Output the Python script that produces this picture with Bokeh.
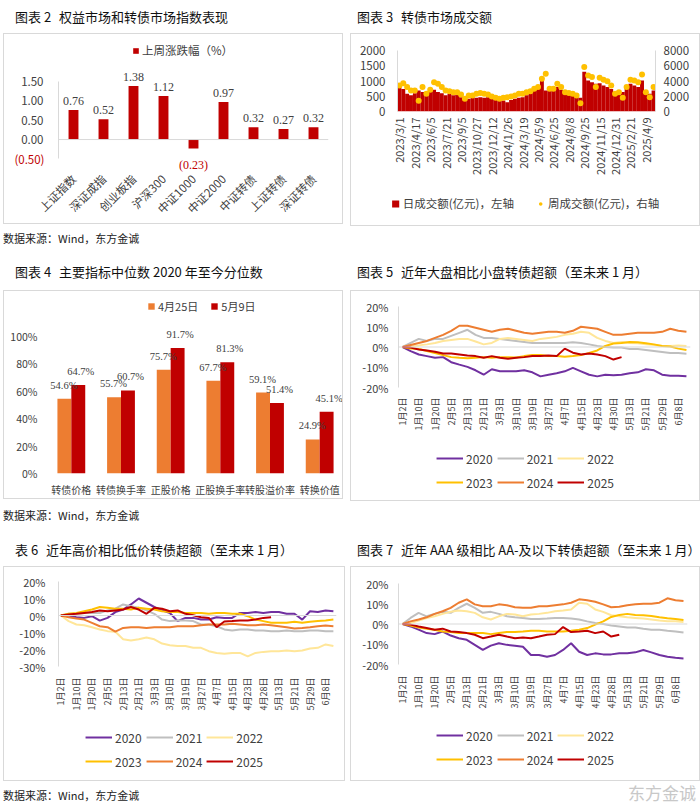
import math
from bokeh.plotting import figure
from bokeh.models import (ColumnDataSource, FactorRange, Range1d, LinearAxis, FixedTicker,
                          Span, Legend, LegendItem, LabelSet, Div,
                          CustomJSTickFormatter, PrintfTickFormatter)
from bokeh.layouts import row, column
from bokeh.transform import dodge
from bokeh.embed import file_html
from bokeh.resources import INLINE

FONT = "Noto Sans CJK SC"
RED = "#C00000"
ORANGE = "#ED7D31"
GOLD = "#FFC000"
TXT = "#404040"
GRID = "#D9D9D9"
BORDER = {"border": "1px solid #D9D9D9"}
NAN = float("nan")

# ---------------- chart 2 data ----------------
idx_names = ["上证指数", "深证成指", "创业板指", "沪深300", "中证1000", "中证2000", "中证转债", "上证转债", "深证转债"]
idx_chg = [0.76, 0.52, 1.38, 1.12, -0.23, 0.97, 0.32, 0.27, 0.32]
c2_yticks = [-0.5, 0.0, 0.5, 1.0, 1.5]

# ---------------- chart 3 data ----------------
c3_tick_labels = ["2023/3/1", "2023/4/17", "2023/6/5", "2023/7/21", "2023/9/5", "2023/10/27",
                  "2023/12/12", "2024/1/26", "2024/3/19", "2024/5/9", "2024/6/25", "2024/8/8",
                  "2024/9/25", "2024/11/15", "2024/12/31", "2025/2/21", "2025/4/9"]
c3_pts_per_label = 4
c3_daily = [800, 740, 580, 530, 600, 690, 640, 530, 690, 710,
            640, 600, 530, 580, 530, 560, 470, 380, 420, 470,
            450, 470, 450, 470, 420, 380, 360, 360, 300, 380,
            420, 450, 470, 530, 580, 690, 800, 1000, 690, 690,
            740, 800, 710, 580, 560, 530, 490, 450, 1300, 1020,
            960, 910, 930, 850, 800, 740, 530, 560, 640, 800,
            910, 850, 800, 1020, 640, 580, 690]
c3_weekly = [3410, 3720, 3200, 2760, 2760, 1400, 3200, 2320, 2850, 3850,
             3630, 3200, 2760, 2670, 2540, 2540, 2230, 1660, 2100, 2100,
             2320, 2410, 2320, 2230, 1970, 1790, 1660, 1790, 1880, 1970,
             2100, 2320, 2320, 2540, 2670, 2980, 3200, 4290, 4950, 2980,
             2980, 3630, 3200, 2540, 2410, 2320, 2100, 1090, 5820, 4730,
             4510, 3200, 4420, 4160, 3980, 3410, 2320, 2540, 1790, 3200,
             4160, 4070, 3850, 4860, 2540, 1880, 3200]
c3_left_ticks = [0, 500, 1000, 1500, 2000]
c3_right_ticks = [0, 2000, 4000, 6000, 8000]
c3_series = ["日成交额(亿元)，左轴", "周成交额(亿元)，右轴"]

# ---------------- chart 4 data ----------------
ind_names = ["转债价格", "转债换手率", "正股价格", "正股换手率", "转股溢价率", "转换价值"]
pct_0425 = [54.6, 55.7, 75.7, 67.7, 59.1, 24.9]
pct_0509 = [64.7, 60.7, 91.7, 81.3, 51.4, 45.1]
c4_series = ["4月25日", "5月9日"]
c4_yticks = [0, 20, 40, 60, 80, 100]

# ---------------- line charts ----------------
years = ["2020", "2021", "2022", "2023", "2024", "2025"]
year_colors = ["#7030A0", "#BFBFBF", "#FFE699", "#FFC000", "#ED7D31", "#C00000"]
pts_per_label = 2

c5_ticks = ["1月2日", "1月10日", "1月20日", "2月5日", "2月13日", "2月21日", "3月3日", "3月10日", "3月19日",
            "3月27日", "4月7日", "4月15日", "4月23日", "4月30日", "5月13日", "5月21日", "5月29日", "6月8日"]
c67_ticks = ["1月2日", "1月10日", "1月20日", "2月5日", "2月13日", "2月21日", "3月3日", "3月10日", "3月19日",
             "3月27日", "4月7日", "4月15日", "4月23日", "4月28日", "5月13日", "5月21日", "5月29日", "6月8日"]

c5_2020 = [0, -2, -3.7, -4.5, -5.3, -5, -7.5, -8.7, -9.8, -11.5, -13.7, -11, -12, -12, -12, -11.5, -12.5, -14.5,
           -13.7, -13, -12, -10.3, -12, -13.7, -14.5, -13.7, -14, -13.7, -13, -12.5, -11, -11.5, -13.7, -14.2, -14.2, -14.5]
c5_2021 = [0, 2, 4, 3, 4, 4, 5.5, 7, 8.5, 6, 4.5, 4.5, 4, 3.5, 3, 2.5, 2, 2,
           2, 2, 2, 2.3, 2, 1.3, 0.5, 0, -0.3, -0.3, -1, -1, -1.5, -2, -2.5, -3, -3, -3.3]
c5_2022 = [0, 0.5, 0.8, 1.3, 2, 3, 3.5, 4, 4, 2.7, 1.3, 2, 4, 4.5, 4, 3.5, 3, 4,
           4.5, 5, 6, 6.5, 7.5, 7, 4.5, 3, 2, 2.5, 2, 1.8, 1.3, 1, 0.5, 0.5, 0.8, 0.5]
c5_2023 = [0, -0.7, -1, -2, -3, -4, -5, -5.3, -5.5, -5.3, -5, -5.3, -5, -5, -5.2, -4.5, -4, -4,
           -4.5, -4.5, -4.8, -4.5, -4, -3, -1.7, 0.5, 1.7, 2, 2.5, 2.3, 1.8, 1.3, 0.5, 0.2, -0.8, -1.5]
c5_2024 = [0, 1, 2, 3, 4.5, 6, 8, 10.5, 10.5, 9.5, 8.5, 7.5, 8.5, 9, 8, 7, 6.5, 7,
           7.5, 7.5, 7, 8, 10, 9.5, 9, 7.5, 6, 6, 6.5, 7, 7, 7, 7.5, 9, 8, 7.5]
c5_2025 = [0, -0.3, -1.2, -1.7, -2.3, -3.2, -3.2, -3.7, -4.2, -4.5, -5.3, -4.5, -5.3, -5.8,
           -5.3, -5, -4.5, -4.5, -4.2, -4.5, -0.8, -2.8, -3.7, -3.2, -3.7, -4.5, -6.2, -5]

c6_2020 = [0, 0, -1, -1.4, -0.4, -3, -1.4, 2, 3.5, 6.5, 10, 7.5, 5, 3, 1.5, -3.3, -1.4, -1.4,
           -2.4, -2.4, -1, -1.4, -1.4, 1.5, 1.5, 2, 1.5, 2, 2, 1, 1, -2.4, 2.5, 2, 3, 2.5]
c6_2021 = [0, 1, 1, 1.5, 1.5, 1.5, 3, 4, 6.5, 5.5, 4.5, 3, 1, -2.4, -3.3, -3, -3, -3.3,
           -5.3, -5.3, -6.3, -8.2, -8.8, -8.2, -8.2, -8.8, -8.8, -9.2, -9.2, -8.8, -9.2, -9.2, -8.8, -8.8, -9.2, -9.2]
c6_2022 = [0, -3.3, -5.3, -5.7, -6.9, -8.2, -9.2, -9.6, -14, -14.7, -14, -13, -14, -16.5, -17.5, -18, -18, -19,
           -19, -21, -22, -22.5, -22, -22, -24, -22, -21.4, -21, -21, -20.6, -21, -20.6, -19.4, -19, -17, -18]
c6_2023 = [0, 1, 1.5, 2.5, 3.5, 5, 4.5, 4, 4, 3.5, 4.5, 4, 3.5, 2.5, 2, 2, 1.5, 1.5,
           1.5, 1, 1.5, 1.5, 1, 1, -0.4, -2.4, -3.3, -4.3, -4.3, -4.3, -3.7, -4.3, -3.7, -3.3, -2.9, -2.4]
c6_2024 = [0, -1, -1.8, -2.4, -4.3, -6.3, -6.9, -9.5, -7.3, -6.9, -6.9, -7.3, -6.9, -6.9, -6.9, -6.3, -6.3, -6.3,
           -5.7, -5.3, -5.3, -5.3, -4.9, -5.3, -5.7, -5.7, -5.3, -5.7, -6.3, -6.9, -7.6, -7.3, -6.9, -6.3, -5.9, -6.3]
c6_2025 = [0, 0.6, 1, 1.5, 2, 3, 2.5, 3, 3.5, 5, 3.5, 1, 4.5, 4,
           2.5, 3, 1, 0.2, -1, -1.4, -6.9, -3.5, -3.3, -2.9, -2.9, -2.4, -1.4, -1]

c7_2020 = [0, -1.2, -2.8, -4.5, -5, -3.7, -5.7, -7, -7.8, -10.3, -12.8, -10.7, -9.5, -10.3, -10.7, -11.2, -15.3, -15.3,
           -16.2, -15.3, -12.8, -9.5, -13.7, -15.3, -14.5, -15, -15, -14.5, -14.5, -14, -12.8, -14, -15.3, -16.2, -16.7, -17]
c7_2021 = [0, 3, 5.5, 3.8, 5, 6, 5.5, 8, 10, 8, 5.5, 6, 5, 3.8, 3.3, 3, 2.5, 2.5,
           2.7, 3, 3, 2.7, 2.2, 1.3, 0.5, 0, -0.7, -1.2, -1.7, -1.7, -2.3, -2.8, -2.8, -3.3, -3.7, -4.2]
c7_2022 = [0, 0.5, 1.7, 3, 3.8, 5, 6, 6.7, 6.3, 5.5, 3.3, 2.2, 3.8, 5, 4.7, 3.8, 4.7, 5,
           5.5, 6.3, 6.7, 7.2, 10.5, 10, 7.2, 6, 4.3, 3.8, 3.3, 3, 2.7, 2.2, 1.7, 1.3, 1.3, 1]
c7_2023 = [0, -0.7, -1.7, -2.3, -2.8, -3.7, -4, -4.5, -4.5, -4.5, -4.5, -5, -4.5, -4, -4, -3.7, -3.3, -3.3,
           -3.7, -3.7, -3.7, -3.3, -2.8, -2, -0.3, 1.3, 3.5, 4.5, 5, 4.5, 4.3, 4, 3.3, 2.8, 2.5, 2]
c7_2024 = [0, 1.3, 2.2, 3.3, 5, 6.3, 8, 10.5, 12.2, 9.7, 8.8, 8.8, 9.7, 9.3, 8.3, 8, 8, 8.8,
           8.8, 9.3, 9.7, 10.5, 12.2, 11.7, 11, 9.7, 8.3, 8.5, 9.3, 9.7, 10, 10, 10.5, 12.7, 11.7, 11.3]
c7_2025 = [0, -0.3, -1.2, -2, -2.8, -2.3, -3.7, -4, -4.5, -5.3, -7, -6.2, -5.3, -6.2,
           -7, -6.7, -7, -6.2, -5.3, -5, -1.5, -4, -3.7, -3.3, -4.5, -3.7, -6.2, -5.3]

c5_series = [c5_2020, c5_2021, c5_2022, c5_2023, c5_2024, c5_2025]
c6_series = [c6_2020, c6_2021, c6_2022, c6_2023, c6_2024, c6_2025]
c7_series = [c7_2020, c7_2021, c7_2022, c7_2023, c7_2024, c7_2025]

titles = {
    2: ("图表 2", "权益市场和转债市场指数表现"),
    3: ("图表 3", "转债市场成交额"),
    4: ("图表 4", "主要指标中位数 2020 年至今分位数"),
    5: ("图表 5", "近年大盘相比小盘转债超额（至未来 1 月）"),
    6: ("表 6", "近年高价相比低价转债超额（至未来 1 月）"),
    7: ("图表 7", "近年 AAA 级相比 AA-及以下转债超额（至未来 1 月）"),
}
source_text = "数据来源：Wind，东方金诚"
watermark = "东方金诚"

LW, RW = 340, 348   # canvas widths of left / right panels


# ---------------- helpers ----------------
def style_axis(ax, size, standoff):
    ax.major_label_text_font = FONT
    ax.major_label_text_font_size = size
    ax.major_label_text_color = TXT
    ax.axis_line_color = None
    ax.major_tick_line_color = None
    ax.minor_tick_line_color = None
    ax.major_tick_out = 0
    ax.major_tick_in = 0
    ax.minor_tick_out = 0
    ax.minor_tick_in = 0
    ax.major_label_standoff = standoff


def base_fig(w, h, xr, yr, l, r, t, b, border=False):
    kw = {}
    if border:
        kw["styles"] = BORDER
    p = figure(width=w, height=h, x_range=xr, y_range=yr, output_backend="svg",
               toolbar_location=None, min_border_left=l, min_border_right=r,
               min_border_top=t, min_border_bottom=b, **kw)
    p.grid.visible = False
    p.outline_line_color = None
    p.background_fill_color = "white"
    p.border_fill_color = "white"
    return p


def make_legend(items, loc, gw, gh, lh, size, spacing, ncols=None):
    kw = dict(items=items, location=loc, orientation="horizontal", glyph_width=gw, glyph_height=gh,
              label_height=lh, label_standoff=3, spacing=spacing, padding=0, margin=0,
              border_line_color=None, background_fill_alpha=0, label_text_font=FONT,
              label_text_font_size=size, label_text_color=TXT)
    if ncols:
        kw["ncols"] = ncols
    return Legend(**kw)


def legend_fig(w, h, specs, gw, gh, lh, size, spacing, ncols=None):
    """A strip below a chart that only carries the chart's legend (keys have no visible data)."""
    lp = figure(width=w, height=h, x_range=Range1d(0, 1), y_range=Range1d(0, 1), output_backend="svg",
                toolbar_location=None, x_axis_location=None, y_axis_location=None,
                min_border_left=0, min_border_right=0, min_border_top=0, min_border_bottom=0)
    lp.grid.visible = False
    lp.outline_line_color = None
    items = []
    for label, kind, color in specs:
        if kind == "line":
            r = lp.line(x=[NAN], y=[NAN], line_color=color, line_width=2)
        elif kind == "bar":
            r = lp.vbar(x=[NAN], top=[NAN], width=0.1, fill_color=color, line_color=None)
        else:
            r = lp.scatter(x=[NAN], y=[NAN], size=6, fill_color=color, line_color=None)
        items.append(LegendItem(label=label, renderers=[r]))
    lp.add_layout(make_legend(items, "center", gw, gh, lh, size, spacing, ncols))
    # wrap it so that its frame is not aligned with the chart's frame above it
    return row(lp)


def text_div(html, w, h, pad_top, lh, size, color="#000", pad_left=0, align="left"):
    style = (f"font-family:'{FONT}';font-size:{size}px;color:{color};width:{w - pad_left - 4}px;"
             f"padding-top:{pad_top}px;padding-left:{pad_left}px;line-height:{lh}px;"
             f"white-space:nowrap;text-align:{align};")
    return Div(text=f'<div style="{style}">{html}</div>', width=w, height=h, margin=0)


def title_div(key, w, h, pad_top, pad_left):
    a, b = titles[key]
    html = f'{a} <span style="margin-left:5px">{b}</span>'
    return text_div(html, w, h, pad_top, 20, 13, "#111", pad_left)


def spacer(w, h=1):
    return Div(text="", width=w, height=h, margin=0)


# ---------------- chart 2 ----------------
p2 = base_fig(LW, 191, FactorRange(*idx_names), Range1d(-0.9, 2.5), 54, 16, 8, 50, border=True)
src2 = ColumnDataSource(dict(name=idx_names, val=idx_chg))
r2 = p2.vbar(x="name", top="val", width=0.33, source=src2, fill_color=RED, line_color=None)
p2.add_layout(Span(location=0, dimension="width", line_color=GRID, line_width=1))
ya = p2.yaxis[0]
style_axis(ya, "11.5px", 15)
ya.ticker = FixedTicker(ticks=[t for t in c2_yticks if t >= 0])
ya.formatter = CustomJSTickFormatter(code="return tick.toFixed(2);")
ya.axis_line_color = GRID
ya.bounds = (min(c2_yticks), max(c2_yticks))
yb = LinearAxis()
p2.add_layout(yb, "left")
style_axis(yb, "11.5px", -26)
yb.ticker = FixedTicker(ticks=[t for t in c2_yticks if t < 0])
yb.formatter = CustomJSTickFormatter(code="return '(' + Math.abs(tick).toFixed(2) + ')';")
yb.major_label_text_color = RED
style_axis(p2.xaxis[0], "11.5px", 2)
p2.xaxis[0].major_label_orientation = math.pi / 4
pos_n = [n for n, v in zip(idx_names, idx_chg) if v >= 0]
pos_v = [v for v in idx_chg if v >= 0]
neg_n = [n for n, v in zip(idx_names, idx_chg) if v < 0]
neg_v = [v for v in idx_chg if v < 0]
p2.add_layout(LabelSet(x="name", y="val", text="txt",
                       source=ColumnDataSource(dict(name=pos_n, val=pos_v, txt=[f"{v:.2f}" for v in pos_v])),
                       text_align="center", text_baseline="bottom", y_offset=5, text_font=FONT,
                       text_font_size="12px", text_color=TXT))
p2.add_layout(LabelSet(x="name", y="val", text="txt",
                       source=ColumnDataSource(dict(name=neg_n, val=neg_v, txt=[f"({abs(v):.2f})" for v in neg_v])),
                       text_align="center", text_baseline="top", y_offset=-10, text_font=FONT,
                       text_font_size="12px", text_color=RED))
p2.add_layout(make_legend([LegendItem(label="上周涨跌幅（%）", renderers=[r2])], (74, 116), 7, 7, 14, "11.5px", 6))

# ---------------- chart 3 ----------------
n3 = len(c3_daily)
xs3 = list(range(n3))
p3 = base_fig(RW, 147, Range1d(-0.5, n3 - 0.5), Range1d(min(c3_left_ticks), max(c3_left_ticks)), 46, 44, 16, 70)
p3.extra_y_ranges = {"right": Range1d(min(c3_right_ticks), max(c3_right_ticks))}
p3.vbar(x=xs3, top=c3_daily, width=1.02, fill_color=RED, line_color=None)
p3.scatter(x=xs3, y=c3_weekly, y_range_name="right", size=6, fill_color=GOLD, line_color=None)
p3.add_layout(LinearAxis(y_range_name="right"), "right")
style_axis(p3.yaxis[0], "11.5px", 12)
p3.yaxis[0].ticker = FixedTicker(ticks=c3_left_ticks)
style_axis(p3.yaxis[1], "11.5px", 8)
p3.yaxis[1].ticker = FixedTicker(ticks=c3_right_ticks)
for ax in p3.yaxis:
    ax.axis_line_color = GRID
style_axis(p3.xaxis[0], "11px", 6)
c3_tick_pos = [k * c3_pts_per_label for k in range(len(c3_tick_labels))]
p3.xaxis[0].ticker = FixedTicker(ticks=c3_tick_pos)
p3.xaxis[0].major_label_overrides = {pos: lab for pos, lab in zip(c3_tick_pos, c3_tick_labels)}
p3.xaxis[0].major_label_orientation = math.pi / 2
l3 = legend_fig(RW, 44, [(c3_series[0], "bar", RED), (c3_series[1], "dot", GOLD)], 9, 9, 14, "11.5px", 22)
box3 = column(p3, l3, styles=BORDER)

# ---------------- chart 4 ----------------
p4 = base_fig(LW, 209, FactorRange(*ind_names), Range1d(0, 130), 42, 0, 4, 27, border=True)
src4 = ColumnDataSource(dict(name=ind_names, a=pct_0425, b=pct_0509,
                             ta=[f"{v:.1f}%" for v in pct_0425], tb=[f"{v:.1f}%" for v in pct_0509]))
ra4 = p4.vbar(x=dodge("name", -0.14, range=p4.x_range), top="a", width=0.28, source=src4,
              fill_color=ORANGE, line_color=None)
rb4 = p4.vbar(x=dodge("name", 0.14, range=p4.x_range), top="b", width=0.28, source=src4,
              fill_color=RED, line_color=None)
p4.add_layout(LabelSet(x=dodge("name", -0.15, range=p4.x_range), y="a", text="ta", source=src4,
                       text_align="center", text_baseline="bottom", y_offset=8, text_font=FONT,
                       text_font_size="10.5px", text_color=TXT))
p4.add_layout(LabelSet(x=dodge("name", 0.19, range=p4.x_range), y="b", text="tb", source=src4,
                       text_align="center", text_baseline="bottom", y_offset=8, text_font=FONT,
                       text_font_size="10.5px", text_color=TXT))
style_axis(p4.yaxis[0], "10.5px", 9)
p4.yaxis[0].ticker = FixedTicker(ticks=c4_yticks)
p4.yaxis[0].formatter = PrintfTickFormatter(format="%d%%")
style_axis(p4.xaxis[0], "10px", 8)
p4.add_layout(make_legend([LegendItem(label=c4_series[0], renderers=[ra4]),
                           LegendItem(label=c4_series[1], renderers=[rb4])],
                          (101, 159), 8, 8, 14, "11px", 12))


# ---------------- line charts ----------------
def line_chart(ticks, series, ylo, yhi, ystep, xr, w, h, borders, ystand, xstand, leg_h):
    l, r, t, b = borders
    p = base_fig(w, h, Range1d(*xr), Range1d(ylo, yhi), l, r, t, b)
    p.add_layout(Span(location=0, dimension="width", line_color=GRID, line_width=1))
    for col, vals in zip(year_colors, series):
        xs = [i / pts_per_label for i in range(len(vals))]
        p.line(xs, vals, line_color=col, line_width=2)
    style_axis(p.yaxis[0], "11px", ystand)
    p.yaxis[0].ticker = FixedTicker(ticks=list(range(ylo, yhi + 1, ystep)))
    p.yaxis[0].formatter = PrintfTickFormatter(format="%d%%")
    p.yaxis[0].axis_line_color = GRID
    style_axis(p.xaxis[0], "9px", xstand)
    p.xaxis[0].ticker = FixedTicker(ticks=list(range(len(ticks))))
    p.xaxis[0].major_label_overrides = {i: s for i, s in enumerate(ticks)}
    p.xaxis[0].major_label_orientation = math.pi / 2
    lg = legend_fig(w, leg_h, [(yr, "line", col) for yr, col in zip(years, year_colors)],
                    27, 20, 20, "12px", 4, ncols=3)
    return column(p, lg, styles=BORDER)


box5 = line_chart(c5_ticks, c5_series, -20, 20, 10, (-0.25, 17.75), RW, 149, (47, 9, 15, 53), 10, 10, 60)
box6 = line_chart(c67_ticks, c6_series, -30, 20, 10, (-0.15, 17.7), LW, 151, (54, 8, 14, 52), 13, 11, 62)
box7 = line_chart(c67_ticks, c7_series, -20, 20, 10, (-0.25, 17.75), RW, 147, (47, 12, 16, 50), 10, 11, 66)

# ---------------- layout ----------------
LC, RC = LW + 2, RW + 2
row1 = row(
    spacer(3),
    column(title_div(2, LC, 33, 7, 12), p2, text_div(source_text, LC, 24, 4, 20, 11, "#222")),
    spacer(5),
    column(title_div(3, RC, 33, 7, 7), box3, spacer(RC, 24)),
)
row2 = row(
    spacer(3),
    column(title_div(4, LC, 40, 12, 12), p4, text_div(source_text, LC, 24, 6, 20, 11, "#222")),
    spacer(5),
    column(title_div(5, RC, 40, 12, 7), box5, spacer(RC, 24)),
)
row3 = row(
    spacer(3),
    column(title_div(6, LC, 41, 15, 12), box6, text_div(source_text, LC, 24, 4, 20, 11, "#222")),
    spacer(5),
    column(title_div(7, RC, 41, 15, 7), box7, text_div(watermark, RC, 24, 2, 20, 17, "#C8C8C8", 0, "right")),
)
layout = column(row1, row2, row3)

with open("out.html", "w") as f:
    f.write(file_html(layout, INLINE))
